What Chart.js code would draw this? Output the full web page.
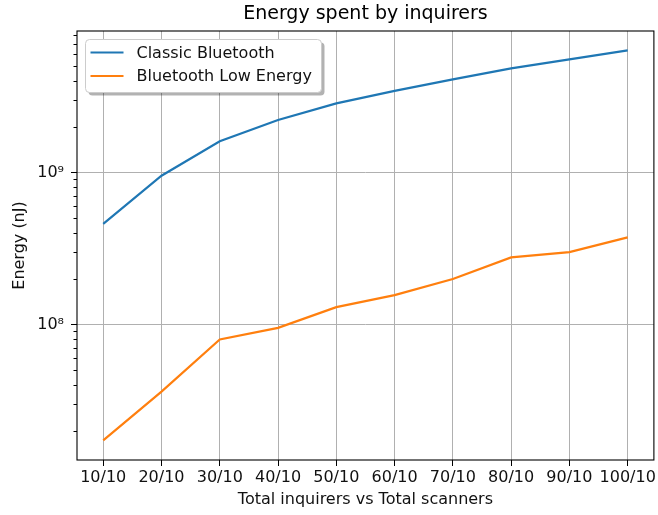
<!DOCTYPE html>
<html>
<head>
<meta charset="utf-8">
<script src="https://cdn.jsdelivr.net/npm/chart.js@4/dist/chart.umd.min.js"></script>
<style>
  body { margin: 0; background: #fff; }
  #wrap { width: 658px; height: 515px; }
</style>
</head>
<body>
<div id="wrap"><canvas id="energyChart" width="658" height="515"></canvas></div>
<script>
// Kategori sumbu x (inquirers / scanners)
const ratios = ['10/10', '20/10', '30/10', '40/10', '50/10', '60/10', '70/10', '80/10', '90/10', '100/10'];

// Energi (nJ), dibaca dari grafik skala log
const classicBt = [4.59e8, 9.5e8, 1.60e9, 2.21e9, 2.84e9, 3.43e9, 4.09e9, 4.83e9, 5.53e9, 6.34e9];
const bleEnergy = [1.73e7, 3.62e7, 7.97e7, 9.5e7, 1.30e8, 1.56e8, 1.99e8, 2.76e8, 2.99e8, 3.74e8];

// Tick sumbu y: dekade diberi label + garis grid, sisanya tick minor
const majorTicks = [1e8, 1e9];
const majorLabels = ['10⁸', '10⁹'];
const minorTicks = [2e7, 3e7, 4e7, 5e7, 6e7, 7e7, 8e7, 9e7,
                    2e8, 3e8, 4e8, 5e8, 6e8, 7e8, 8e8, 9e8,
                    2e9, 3e9, 4e9, 5e9, 6e9, 7e9, 8e9];

const FONT = 'DejaVu Sans';
const TXT = '#111';
const isMajor = v => majorTicks.includes(v);

// bingkai sumbu, tick kiri, dan legenda bergaya matplotlib
const mplExtras = {
    id: 'mplExtras',
    afterDatasetsDraw(chart) {
        const { ctx, chartArea: a, scales } = chart;
        ctx.save();
        // tick marks sumbu y
        ctx.strokeStyle = '#000';
        ctx.lineWidth = 1;
        scales.y.ticks.forEach(t => {
            const y = Math.round(scales.y.getPixelForValue(t.value)) + 0.5;
            const len = isMajor(t.value) ? 6 : 3.5;
            ctx.beginPath();
            ctx.moveTo(a.left - len, y);
            ctx.lineTo(a.left, y);
            ctx.stroke();
        });
        // spines
        ctx.lineWidth = 1.1;
        ctx.strokeRect(a.left, a.top, a.right - a.left, a.bottom - a.top);

        // legenda
        const bx = a.left + 8.5, by = a.top + 8.5, bw = 236, bh = 53;
        ctx.fillStyle = 'rgba(0,0,0,0.3)';
        ctx.beginPath(); ctx.roundRect(bx + 3, by + 3, bw, bh, 4); ctx.fill();
        ctx.fillStyle = '#fff';
        ctx.strokeStyle = '#cccccc';
        ctx.lineWidth = 1;
        ctx.beginPath(); ctx.roundRect(bx, by, bw, bh, 4); ctx.fill(); ctx.stroke();
        ctx.font = '16px "' + FONT + '"';
        ctx.textBaseline = 'middle';
        chart.data.datasets.forEach((ds, i) => {
            const y = by + 13 + i * 23.5;
            ctx.strokeStyle = ds.borderColor;
            ctx.lineWidth = ds.borderWidth;
            ctx.beginPath();
            ctx.moveTo(bx + 5, y);
            ctx.lineTo(bx + 38, y);
            ctx.stroke();
            ctx.fillStyle = TXT;
            ctx.fillText(ds.label, bx + 51, y + 1);
        });
        ctx.restore();
    }
};

new Chart(document.getElementById('energyChart'), {
    type: 'line',
    data: {
        datasets: [{
            label: 'Classic Bluetooth',
            data: classicBt.map((v, i) => ({ x: i, y: v })),
            borderColor: '#1f77b4',
            borderWidth: 2.2,
            pointRadius: 0,
            tension: 0
        }, {
            label: 'Bluetooth Low Energy',
            data: bleEnergy.map((v, i) => ({ x: i, y: v })),
            borderColor: '#ff7f0e',
            borderWidth: 2.2,
            pointRadius: 0,
            tension: 0
        }]
    },
    options: {
        responsive: false,
        animation: false,
        layout: { padding: { left: 0, right: 3, top: 0, bottom: 0 } },
        plugins: {
            legend: { display: false },
            tooltip: { enabled: false },
            title: {
                display: true,
                text: 'Energy spent by inquirers',
                fullSize: false,
                color: '#000',
                font: { family: FONT, size: 19, weight: 'normal', lineHeight: 1.2 },
                padding: { top: 3, bottom: 5.2 }
            }
        },
        scales: {
            x: {
                type: 'linear',
                min: -0.45,
                max: 9.45,
                afterBuildTicks: s => { s.ticks = ratios.map((_, i) => ({ value: i })); },
                afterFit: s => { s.height = 55; },
                ticks: {
                    callback: v => ratios[v],
                    color: TXT,
                    font: { family: FONT, size: 16 },
                    padding: 2,
                    maxRotation: 0,
                    autoSkip: false
                },
                grid: { color: '#b0b0b0', lineWidth: 1, tickColor: '#000', tickLength: 6 },
                border: { display: false },
                title: {
                    display: true,
                    text: 'Total inquirers vs Total scanners',
                    color: TXT,
                    font: { family: FONT, size: 16, lineHeight: 1.2 },
                    padding: { top: 0, bottom: 6 }
                }
            },
            y: {
                type: 'logarithmic',
                min: 1.285e7,
                max: 8.5e9,
                afterBuildTicks: s => {
                    s.ticks = minorTicks.concat(majorTicks).sort((p, q) => p - q).map(v => ({ value: v }));
                },
                afterFit: s => { s.width = 77; },
                ticks: {
                    callback: v => isMajor(v) ? majorLabels[majorTicks.indexOf(v)] : '',
                    color: TXT,
                    font: { family: FONT, size: 16 },
                    padding: 13,
                    autoSkip: false
                },
                grid: {
                    color: c => isMajor(c.tick.value) ? '#b0b0b0' : 'rgba(0,0,0,0)',
                    lineWidth: 1,
                    drawTicks: false
                },
                border: { display: false },
                title: {
                    display: true,
                    text: 'Energy (nJ)',
                    color: TXT,
                    font: { family: FONT, size: 16, lineHeight: 1.2 },
                    padding: { top: 10, bottom: 0 }
                }
            }
        }
    },
    plugins: [mplExtras]
});
</script>
</body>
</html>
